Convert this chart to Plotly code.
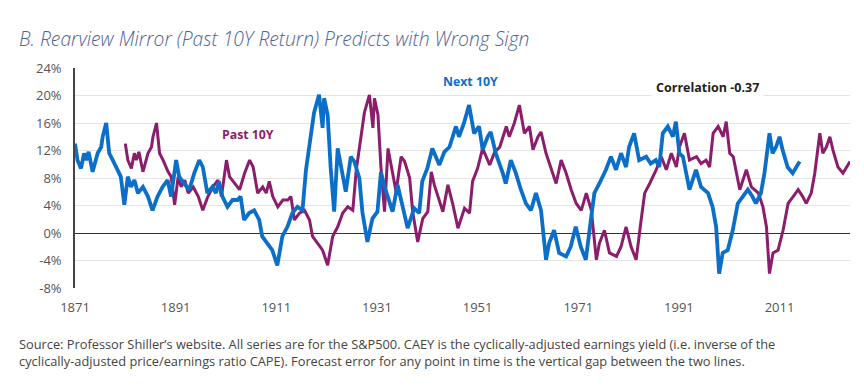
import plotly.graph_objects as go

# Annualised 10-year S&P500 return, indexed by the START year of the decade ("Next 10Y")
next10_years = [
    1871.0, 1871.5, 1872.2, 1872.8, 1873.2, 1873.7, 1874.5, 1875.5, 1876.2, 1876.5,
    1877.2, 1877.8, 1878.5, 1879.5, 1880.1, 1880.8, 1881.5, 1882.1, 1882.8, 1883.5,
    1884.5, 1885.5, 1886.4, 1887.4, 1888.4, 1889.4, 1890.1, 1891.1, 1891.7, 1892.7,
    1893.7, 1894.7, 1895.7, 1896.4, 1897.0, 1897.3, 1898.3, 1899.0, 1899.6, 1900.3,
    1901.3, 1902.3, 1903.3, 1903.9, 1904.6, 1905.6, 1906.6, 1907.6, 1908.2, 1909.2,
    1910.2, 1911.2, 1912.2, 1913.2, 1914.2, 1915.2, 1916.2, 1916.9, 1917.5, 1918.5,
    1919.5, 1920.2, 1920.5, 1921.2, 1921.8, 1922.5, 1923.2, 1923.8, 1924.8, 1925.8,
    1926.5, 1927.5, 1928.1, 1929.1, 1930.1, 1931.1, 1931.8, 1932.4, 1933.1, 1934.1,
    1935.1, 1936.1, 1937.1, 1938.4, 1939.4, 1940.0, 1941.0, 1942.0, 1943.4, 1944.4,
    1945.4, 1946.7, 1947.3, 1948.3, 1949.3, 1950.3, 1951.3, 1952.0, 1953.0, 1953.6,
    1954.6, 1956.0, 1956.6, 1957.6, 1958.6, 1959.6, 1960.6, 1961.6, 1962.6, 1963.6,
    1964.6, 1965.2, 1966.2, 1967.2, 1968.6, 1969.5, 1970.5, 1971.5, 1972.5, 1973.5,
    1974.2, 1975.2, 1976.5, 1977.5, 1978.5, 1979.5, 1980.5, 1981.1, 1982.1, 1983.1,
    1984.5, 1985.4, 1986.4, 1987.1, 1987.8, 1988.8, 1989.8, 1990.4, 1991.1, 1991.8,
    1992.4, 1993.1, 1994.4, 1995.4, 1996.8, 1997.7, 1998.4, 1999.0, 1999.7, 2000.7,
    2001.7, 2002.7, 2003.7, 2004.7, 2005.6, 2006.3, 2007.3, 2008.0, 2009.0, 2009.6,
    2010.3, 2011.0, 2011.6, 2012.6, 2013.6, 2015.0,
]
next10_return = [
    13.0, 10.6, 9.4, 11.6, 10.6, 11.8, 8.9, 11.6, 12.5, 14.0,
    16.0, 11.6, 10.6, 8.9, 8.2, 4.1, 8.2, 6.7, 7.7, 5.8,
    6.7, 5.3, 3.3, 5.3, 6.7, 7.7, 5.3, 10.6, 8.2, 7.2,
    6.3, 8.7, 10.6, 9.6, 6.7, 5.8, 6.7, 5.8, 7.5, 5.3,
    3.8, 4.8, 4.8, 5.3, 1.9, 2.9, 3.3, 1.9, -0.5, -1.5,
    -2.5, -4.7, -0.5, 0.9, 2.9, 3.8, 3.3, 9.2, 12.1, 17.5,
    20.1, 15.3, 19.6, 17.2, 9.5, 3.1, 12.3, 9.9, 6.0, 11.1,
    10.4, 8.0, 3.1, -1.3, 2.1, 3.1, 8.9, 7.0, 5.5, 3.1,
    7.0, 4.1, 0.7, 3.6, 2.9, 7.5, 9.4, 12.3, 9.9, 11.8,
    12.5, 15.5, 14.0, 16.0, 18.6, 14.5, 15.5, 12.1, 14.0, 14.7,
    11.6, 8.7, 7.2, 10.6, 8.7, 6.3, 4.3, 3.3, 5.8, 3.3,
    -3.9, -1.5, 0.4, -2.9, -3.4, -2.0, 0.9, -2.0, -3.9, 1.9,
    5.8, 7.2, 9.2, 11.1, 9.2, 11.6, 9.6, 12.5, 14.5, 10.6,
    11.1, 10.1, 10.6, 9.6, 14.5, 15.5, 14.0, 16.2, 11.6, 11.1,
    8.7, 6.3, 9.2, 6.7, 5.8, 3.8, 0.9, -5.9, -2.9, -2.5,
    0.4, 4.3, 5.3, 6.3, 5.3, 4.3, 5.8, 8.7, 14.5, 11.6,
    12.5, 14.0, 12.1, 9.6, 8.7, 10.4,
]
# "Past 10Y" is the same decade return, dated at the END of the decade
LAG_YEARS = 10
past10_years = [y + LAG_YEARS for y in next10_years]
past10_return = list(next10_return)

x_ticks = [1871, 1891, 1911, 1931, 1951, 1971, 1991, 2011]
y_ticks = [-8, -4, 0, 4, 8, 12, 16, 20, 24]
y_tick_labels = [f"{v}%" for v in y_ticks]

title_text = "B. Rearview Mirror (Past 10Y Return) Predicts with Wrong Sign"
source_text = ("Source: Professor Shiller\u2019s website. All series are for the S&P500. CAEY is the "
               "cyclically-adjusted earnings yield (i.e. inverse of the<br>cyclically-adjusted "
               "price/earnings ratio CAPE). Forecast error for any point in time is the vertical "
               "gap between the two lines.")

BLUE = "#0b6fc9"
PURPLE = "#8c1d6c"
FONT = "Open Sans"

fig = go.Figure()
fig.add_trace(go.Scatter(x=past10_years, y=past10_return, mode="lines",
                         line=dict(color=PURPLE, width=3.0), name="Past 10Y",
                         hoverinfo="skip"))
fig.add_trace(go.Scatter(x=next10_years, y=next10_return, mode="lines",
                         line=dict(color=BLUE, width=3.8), name="Next 10Y",
                         hoverinfo="skip"))

# page body has an 8px default margin, so the figure is drawn 8px smaller
fig.update_layout(
    width=856, height=384,
    margin=dict(l=67, r=14, t=60, b=104),
    paper_bgcolor="white", plot_bgcolor="white",
    showlegend=False,
    font=dict(family=FONT, size=12, color="#555555"),
)
fig.update_xaxes(range=[1871, 2025], tickvals=x_ticks, ticktext=[str(t) for t in x_ticks],
                 showgrid=False, zeroline=False, showline=False, ticks="",
                 ticklabelstandoff=10, tickfont=dict(size=13, color="#555555"))
fig.update_yaxes(range=[-8, 24], tickvals=y_ticks, ticktext=y_tick_labels,
                 showgrid=True, gridcolor="#e4e4e4", gridwidth=1.2,
                 zeroline=True, zerolinecolor="#333333", zerolinewidth=1.3,
                 showline=True, linecolor="#444444", linewidth=1.6,
                 ticks="", ticklabelstandoff=9, tickfont=dict(size=13, color="#555555"))

fig.add_annotation(text=title_text, xref="paper", yref="paper",
                   x=(17 - 75) / 775, y=(288 - 39) / 220, xanchor="left", yanchor="middle",
                   showarrow=False,
                   font=dict(family=FONT, size=19.3, color="#4d6497", style="italic", weight=300))
fig.add_annotation(text="<b>Past 10Y</b>", x=1905.4, y=14.3, xref="x", yref="y",
                   showarrow=False, font=dict(family=FONT, size=12.3, color=PURPLE))
fig.add_annotation(text="<b>Next 10Y</b>", x=1949.5, y=22.1, xref="x", yref="y",
                   showarrow=False, font=dict(family=FONT, size=12.3, color=BLUE))
fig.add_annotation(text="<b>Correlation -0.37</b>", x=1996.6, y=21.2, xref="x", yref="y",
                   showarrow=False, bgcolor="white", borderpad=4,
                   font=dict(family=FONT, size=12.5, color="#222222"))
fig.add_annotation(text=source_text, xref="paper", yref="paper",
                   x=(17 - 75) / 775, y=(288 - 352) / 220, xanchor="left", yanchor="middle",
                   align="left", showarrow=False,
                   font=dict(family=FONT, size=12.8, color="#444444"))

fig.write_html("out.html")
